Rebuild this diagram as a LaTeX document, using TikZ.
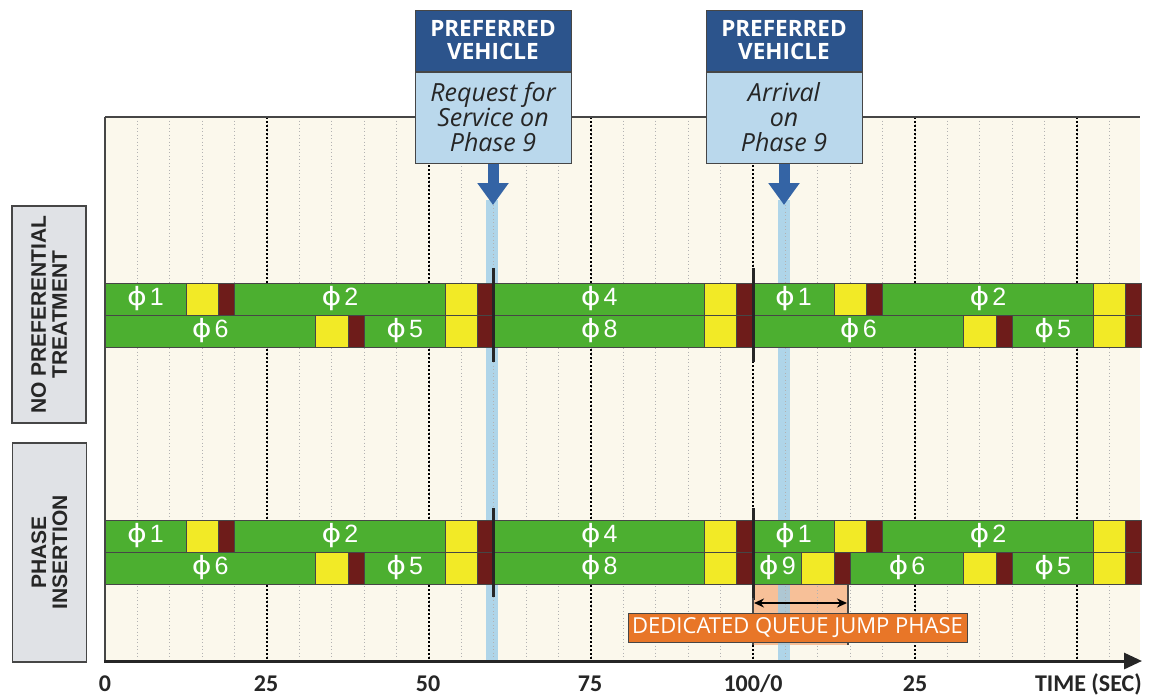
\documentclass[tikz,border=0pt]{standalone}
\usepackage{fontspec}
\setmainfont{Open Sans}
\newfontfamily\labelfont{Liberation Sans}
\newfontfamily\phifont{DejaVu Sans}
\newfontfamily\axisfont{Carlito}
\usetikzlibrary{arrows.meta, positioning}
\definecolor{phgreen}{RGB}{76,175,48}
\definecolor{phyellow}{RGB}{242,234,38}
\definecolor{phred}{RGB}{110,28,26}
\definecolor{plotcream}{RGB}{251,248,236}
\definecolor{vehnavy}{RGB}{44,84,140}
\definecolor{vehlight}{RGB}{186,216,236}
\definecolor{arrowblue}{RGB}{52,100,165}
\definecolor{stripeblue}{RGB}{150,202,232}
\definecolor{qjorange}{RGB}{232,118,40}
\definecolor{qjpeach}{RGB}{247,192,152}
\definecolor{framegray}{RGB}{70,70,70}
\definecolor{sidegray}{RGB}{224,226,230}
\newcommand{\phs}[1]{\scalebox{1.25}[1.05]{\phifont\fontsize{24}{24}\selectfont ϕ}\kern3pt#1}

\begin{document}
\begin{tikzpicture}[x=1pt, y=-1pt, every node/.style={inner sep=0pt},
  seg/.style={draw=framegray, line width=0.8pt},
  phlabel/.style={text=white, font=\labelfont\fontsize{25}{25}\selectfont},
  minorgrid/.style={black!30, line width=0.8pt, dash pattern=on 1pt off 2.5pt},
  majorgrid/.style={black, line width=1.6pt, dash pattern=on 1.6pt off 2.4pt},
  marker/.style={black!85, line width=3pt},
  sidebox/.style={draw=framegray, fill=sidegray, line width=1.2pt, rotate=90,
    minimum height=74pt, align=center, text=black!85,
    font=\labelfont\bfseries\fontsize{21}{21}\selectfont},
  vehhead/.style={draw=framegray, fill=vehnavy, text=white, line width=1pt,
    minimum width=156pt, minimum height=61pt, align=center,
    font=\bfseries\fontsize{22.5}{23}\selectfont},
  vehbody/.style={draw=framegray, fill=vehlight, text=black!85, line width=1pt,
    minimum width=156pt, minimum height=91pt, align=center,
    font=\itshape\fontsize{25}{25}\selectfont},
  bluearrow/.style={arrowblue, line width=11pt, -{Triangle[length=22pt, width=30pt]}},
  axislabel/.style={anchor=base, text=black!85, font=\axisfont\bfseries\fontsize{24}{24}\selectfont},
  qjlabel/.style={draw=framegray, fill=qjorange, text=white, line width=1pt,
    minimum width=339pt, minimum height=29pt, font=\fontsize{22}{22}\selectfont},
  qjarrow/.style={black, line width=1.5pt, {Stealth[length=10pt, width=9pt]}-{Stealth[length=10pt, width=9pt]}}]
  \useasboundingbox (0,0) rectangle (1153,696);
  \fill[white] (0,0) rectangle (1153,696);
  % Plot area
  \fill[plotcream] (105,117) rectangle (1140,661);
  \fill[qjpeach] (753,584) rectangle (848,645);
  \fill[stripeblue, opacity=0.75] (486,200) rectangle (498,661);
  \fill[stripeblue, opacity=0.75] (778,200) rectangle (790,661);
  \begin{scope}[xshift=105pt, x=6.48pt]
    % Grid, 5 s and 25 s
    \foreach \t in {5,10,...,155}
      \draw[minorgrid] (\t,117) -- (\t,661);
    \foreach \t in {25,50,...,150}
      \draw[majorgrid] (\t,117) -- (\t,661);
    % No preferential treatment, ring 1
    \foreach \a/\b/\c in {0/12.5/phgreen, 12.5/17.5/phyellow, 17.5/20/phred,
        20/52.5/phgreen, 52.5/57.5/phyellow, 57.5/60/phred,
        60/92.5/phgreen, 92.5/97.5/phyellow, 97.5/100/phred,
        100/112.5/phgreen, 112.5/117.5/phyellow, 117.5/120/phred,
        120/152.5/phgreen, 152.5/157.5/phyellow, 157.5/160/phred}
      \filldraw[seg, fill=\c] (\a,283) rectangle (\b,315);
    % No preferential treatment, ring 2
    \foreach \a/\b/\c in {0/32.5/phgreen, 32.5/37.5/phyellow, 37.5/40/phred,
        40/52.5/phgreen, 52.5/57.5/phyellow, 57.5/60/phred,
        60/92.5/phgreen, 92.5/97.5/phyellow, 97.5/100/phred,
        100/132.5/phgreen, 132.5/137.5/phyellow, 137.5/140/phred,
        140/152.5/phgreen, 152.5/157.5/phyellow, 157.5/160/phred}
      \filldraw[seg, fill=\c] (\a,315) rectangle (\b,347);
    % Phase insertion, ring 1
    \foreach \a/\b/\c in {0/12.5/phgreen, 12.5/17.5/phyellow, 17.5/20/phred,
        20/52.5/phgreen, 52.5/57.5/phyellow, 57.5/60/phred,
        60/92.5/phgreen, 92.5/97.5/phyellow, 97.5/100/phred,
        100/112.5/phgreen, 112.5/117.5/phyellow, 117.5/120/phred,
        120/152.5/phgreen, 152.5/157.5/phyellow, 157.5/160/phred}
      \filldraw[seg, fill=\c] (\a,520) rectangle (\b,552);
    % Phase insertion, ring 2
    \foreach \a/\b/\c in {0/32.5/phgreen, 32.5/37.5/phyellow, 37.5/40/phred,
        40/52.5/phgreen, 52.5/57.5/phyellow, 57.5/60/phred,
        60/92.5/phgreen, 92.5/97.5/phyellow, 97.5/100/phred,
        100/107.5/phgreen, 107.5/112.5/phyellow, 112.5/115/phred,
        115/132.5/phgreen, 132.5/137.5/phyellow, 137.5/140/phred,
        140/152.5/phgreen, 152.5/157.5/phyellow, 157.5/160/phred}
      \filldraw[seg, fill=\c] (\a,552) rectangle (\b,584);
    % Phase labels
    \foreach \t/\n [count=\k] in {6.25/1, 36.25/2, 76.25/4, 106.25/1, 136.25/2}
      \node[phlabel] (npa\k) at (\t,299) {\phs{\n}};
    \foreach \t/\n [count=\k] in {16.25/6, 46.25/5, 76.25/8, 116.25/6, 146.25/5}
      \node[phlabel] (npb\k) at (\t,331) {\phs{\n}};
    \foreach \t/\n [count=\k] in {6.25/1, 36.25/2, 76.25/4, 106.25/1, 136.25/2}
      \node[phlabel] (pia\k) at (\t,536) {\phs{\n}};
    \foreach \t/\n [count=\k] in {16.25/6, 46.25/5, 76.25/8, 103.75/9, 123.75/6, 146.25/5}
      \node[phlabel] (pib\k) at (\t,568) {\phs{\n}};
    % Cycle markers
    \draw[marker] (60,268) -- (60,362);
    \draw[marker] (100,268) -- (100,362);
    \draw[marker] (60,508) -- (60,597);
    \draw[marker] (100,508) -- (100,600);
  \end{scope}
  % Queue jump span
  \draw[framegray, line width=1.5pt] (753,598) -- (753,645);
  \draw[framegray, line width=1.5pt] (848,584) -- (848,645);
  \coordinate (qjL) at (754,603);
  \coordinate (qjR) at (847,603);
  \draw[qjarrow] (qjL) -- (qjR);
  \node[qjlabel] (qjtext) at (797.5,627.5) {DEDICATED QUEUE JUMP PHASE};
  % Frame and time axis
  \draw[framegray, line width=1.5pt] (105,117) -- (1140,117);
  \draw[framegray, line width=1.5pt] (105,117) -- (105,661);
  \coordinate (axS) at (104,661);
  \coordinate (axE) at (1142,661);
  \draw[black!85, line width=3pt, -{Triangle[length=18pt, width=16pt]}] (axS) -- (axE);
  \node[axislabel] (tk0) at (105,691) {0};
  \node[axislabel] (tk25) at (266,691) {25};
  \node[axislabel] (tk50) at (428,691) {50};
  \node[axislabel] (tk75) at (590,691) {75};
  \node[axislabel] (tk100) at (753,691) {100/0};
  \node[axislabel] (tk125) at (915,691) {25};
  \node[axislabel, anchor=base east] (tunit) at (1142,691) {TIME (SEC)};
  % Side labels
  \node[sidebox, minimum width=217pt] (nopref) at (49,314.5) {NO PREFERENTIAL\\TREATMENT};
  \node[sidebox, minimum width=219pt] (insert) at (49.5,552.5) {PHASE\\INSERTION};
  % Preferred vehicle boxes
  \node[vehhead] (headA) at (493,40.5) {PREFERRED\\VEHICLE};
  \node[vehbody, below=0pt of headA] (bodyA) {Request for\\Service on\\Phase 9};
  \node[vehhead] (headB) at (784,40.5) {PREFERRED\\VEHICLE};
  \node[vehbody, below=0pt of headB] (bodyB) {Arrival\\on\\Phase 9};
  \coordinate (tipA) at (493,205);
  \coordinate (tipB) at (784,205);
  \draw[bluearrow] (bodyA.south) -- (tipA);
  \draw[bluearrow] (bodyB.south) -- (tipB);
\end{tikzpicture}
\end{document}
